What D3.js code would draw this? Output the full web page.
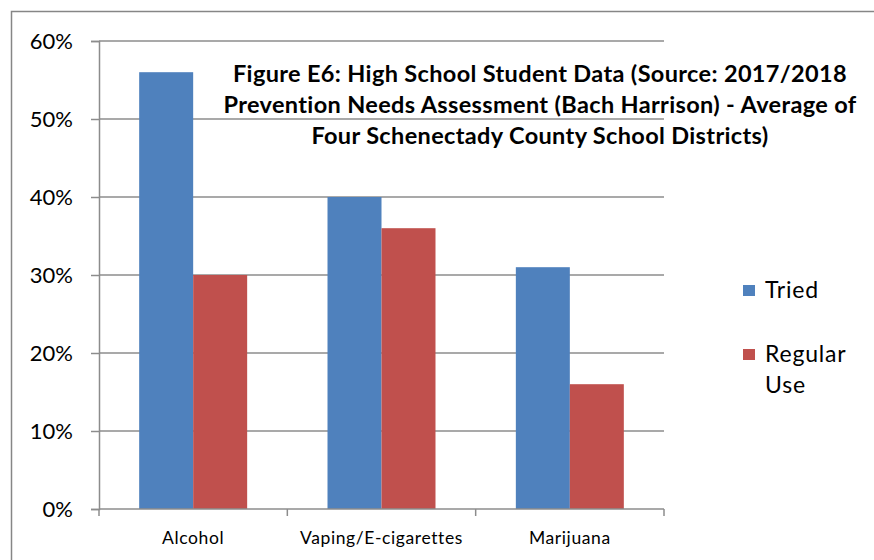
<!DOCTYPE html>
<html>
<head>
<meta charset="utf-8">
<script src="https://cdn.jsdelivr.net/npm/d3@7"></script>
<style>
  html, body { margin: 0; padding: 0; background: #fff; overflow: hidden; }
  svg { display: block; font-family: Lato, "Open Sans", sans-serif; }
</style>
</head>
<body>
<svg id="chart" width="874" height="560"></svg>
<script>
// Substance use among high school students, averaged across four districts
const categories = ["Alcohol", "Vaping/E-cigarettes", "Marijuana"];
const seriesNames = ["Tried", "Regular Use"];
const tried = [0.56, 0.40, 0.31];
const regularUse = [0.30, 0.36, 0.16];
const yTicks = [0, 0.1, 0.2, 0.3, 0.4, 0.5, 0.6];
const titleLines = [
  "Figure E6: High School Student Data (Source: 2017/2018",
  "Prevention Needs Assessment (Bach Harrison) - Average of",
  "Four Schenectady County School Districts)"
];
const colors = ["#4F81BD", "#C0504D"];

const seriesValues = [tried, regularUse];

const svg = d3.select("#chart");

// Outer frame: only the top and left edges fall inside the canvas
svg.append("path")
  .attr("d", "M11.5,600 V11.5 H900")
  .attr("fill", "none").attr("stroke", "#868686").attr("stroke-width", 1.5);

const plot = { left: 99, right: 664, top: 41, bottom: 509 };

const x = d3.scaleBand().domain(categories).range([plot.left, plot.right]).padding(0);
const xSub = d3.scaleBand().domain(seriesNames).range([0, x.bandwidth()])
  .paddingInner(0).paddingOuter(0.744);
const y = d3.scaleLinear().domain([0, 0.6]).range([plot.bottom, plot.top]);

// Horizontal gridlines
svg.append("g").selectAll("line").data(yTicks.filter(d => d > 0)).join("line")
  .attr("x1", plot.left).attr("x2", plot.right)
  .attr("y1", d => y(d)).attr("y2", d => y(d))
  .attr("stroke", "#8c8c8c").attr("stroke-width", 1.5);

// Bars
const groups = svg.append("g").selectAll("g").data(categories).join("g")
  .attr("transform", d => `translate(${x(d)},0)`);
groups.selectAll("rect")
  .data((c, i) => seriesNames.map((s, j) => ({ s, v: seriesValues[j][i], j })))
  .join("rect")
  .attr("x", d => xSub(d.s))
  .attr("width", xSub.bandwidth())
  .attr("y", d => y(d.v))
  .attr("height", d => y(0) - y(d.v))
  .attr("fill", d => colors[d.j]);

// Y axis
const yAxis = svg.append("g")
  .attr("transform", `translate(${plot.left},0)`)
  .call(d3.axisLeft(y).tickValues(yTicks).tickFormat(d3.format(".0%")).tickSize(8).tickPadding(18));
yAxis.select(".domain").attr("stroke", "#8c8c8c").attr("stroke-width", 1.5);
yAxis.selectAll(".tick line").attr("stroke", "#8c8c8c").attr("stroke-width", 1.5);
yAxis.selectAll(".tick text")
  .attr("fill", "#000").style("font-size", "22px").style("font-family", "Lato, sans-serif");

// X axis baseline with ticks at category boundaries
const xg = svg.append("g");
xg.append("line")
  .attr("x1", plot.left).attr("x2", plot.right)
  .attr("y1", plot.bottom).attr("y2", plot.bottom)
  .attr("stroke", "#8c8c8c").attr("stroke-width", 1.5);
const edges = categories.map(c => x(c)).concat([x(categories[categories.length - 1]) + x.bandwidth()]);
xg.selectAll("line.tick").data(edges).join("line").attr("class", "tick")
  .attr("x1", d => d).attr("x2", d => d)
  .attr("y1", plot.bottom).attr("y2", plot.bottom + 7)
  .attr("stroke", "#8c8c8c").attr("stroke-width", 1.5);
xg.selectAll("text").data(categories).join("text")
  .attr("x", d => x(d) + x.bandwidth() / 2)
  .attr("y", 544)
  .attr("text-anchor", "middle")
  .style("font-size", "17.5px").style("letter-spacing", "0.6px")
  .text(d => d);

// Title
svg.append("g").selectAll("text").data(titleLines).join("text")
  .attr("x", 540)
  .attr("y", (d, i) => 82 + i * 31)
  .attr("text-anchor", "middle")
  .style("font-size", "23.5px").style("font-weight", "bold").style("letter-spacing", "0.35px")
  .text(d => d);

// Legend
const legend = svg.append("g");
const legendItems = [
  { color: colors[0], lines: ["Tried"], y: 290 },
  { color: colors[1], lines: ["Regular", "Use"], y: 354 }
];
legendItems.forEach(item => {
  legend.append("rect")
    .attr("x", 743).attr("y", item.y - 5)
    .attr("width", 12).attr("height", 11)
    .attr("fill", item.color);
  item.lines.forEach((t, k) => {
    legend.append("text")
      .attr("x", 765).attr("y", item.y + 8 + k * 31)
      .style("font-size", "23px").style("letter-spacing", "0.8px")
      .text(t);
  });
});
</script>
</body>
</html>
